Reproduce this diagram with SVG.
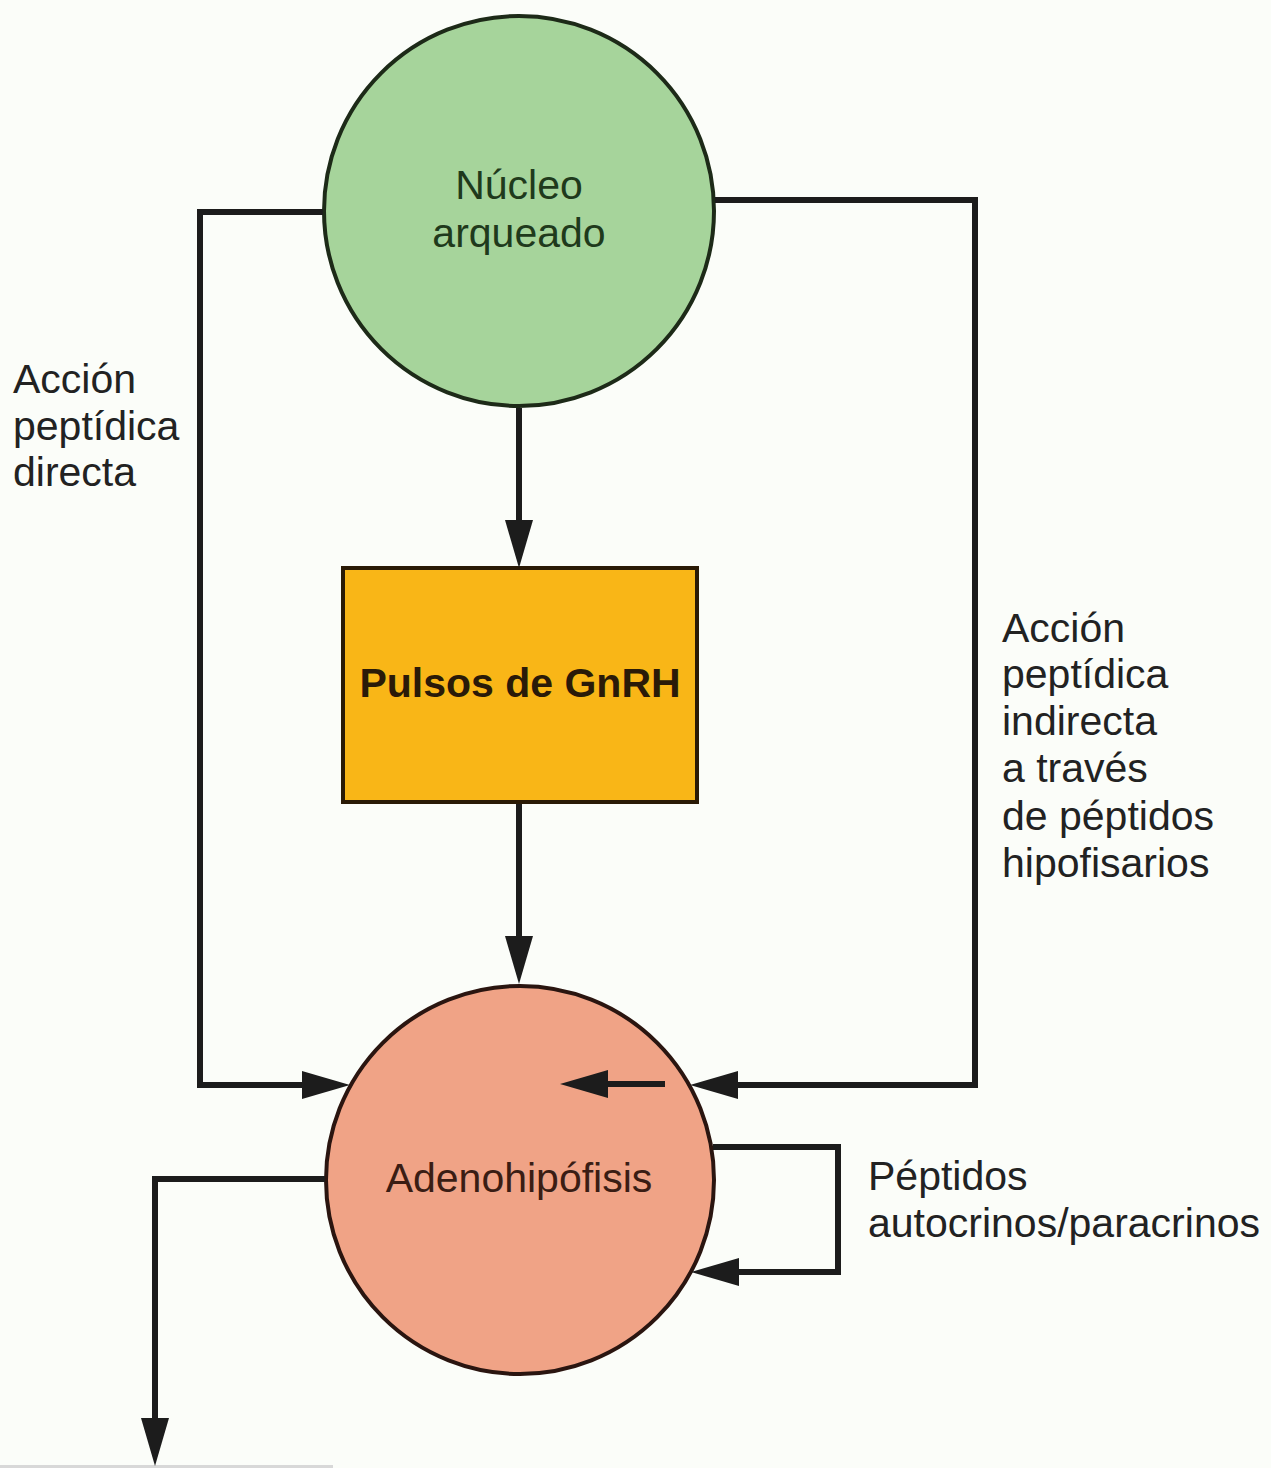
<svg xmlns="http://www.w3.org/2000/svg" width="1271" height="1468" viewBox="0 0 1271 1468">
  <defs>
    <marker id="ah" viewBox="0 0 48 28" markerWidth="48" markerHeight="28" refX="10" refY="14" orient="auto" markerUnits="userSpaceOnUse">
      <path d="M0,0 L48,14 L0,28 z" fill="#1c1c1c"/>
    </marker>
    <style>
      .conn { fill: none; stroke: #1c1c1c; stroke-width: 6; stroke-linejoin: miter; stroke-linecap: butt; }
      .lbl { font-family: "Liberation Sans", Arial, Helvetica, sans-serif; font-size: 41px; fill: #222222; }
      .ctr { text-anchor: middle; }
    </style>
  </defs>
  <rect x="0" y="0" width="1271" height="1468" fill="#fbfdf9"/>
  <rect x="0" y="1465" width="333" height="3" fill="#d8d8d8"/>

  <g id="nucleo-arqueado">
    <circle cx="519" cy="211" r="195" fill="#a6d49b" stroke="#1d2a18" stroke-width="4"/>
    <text class="lbl ctr" x="519" y="199" style="fill:#1f3a1c">Núcleo</text>
    <text class="lbl ctr" x="519" y="247" style="fill:#1f3a1c">arqueado</text>
  </g>

  <g id="pulsos-gnrh">
    <rect x="343" y="568" width="354" height="234" fill="#f9b617" stroke="#2a1a05" stroke-width="4"/>
    <text class="lbl ctr" x="520" y="697" font-weight="bold" style="fill:#2a1a08">Pulsos de GnRH</text>
  </g>

  <g id="adenohipofisis">
    <circle cx="520" cy="1180" r="194" fill="#f0a386" stroke="#2a1510" stroke-width="4"/>
    <text class="lbl ctr" x="519" y="1192" style="fill:#3a1d14">Adenohipófisis</text>
  </g>

  <g id="label-directa">
    <text class="lbl" x="13" y="393">Acción</text>
    <text class="lbl" x="13" y="440">peptídica</text>
    <text class="lbl" x="13" y="486">directa</text>
  </g>

  <g id="label-indirecta">
    <text class="lbl" x="1002" y="642">Acción</text>
    <text class="lbl" x="1002" y="688">peptídica</text>
    <text class="lbl" x="1002" y="735">indirecta</text>
    <text class="lbl" x="1002" y="782">a través</text>
    <text class="lbl" x="1002" y="830">de péptidos</text>
    <text class="lbl" x="1002" y="877">hipofisarios</text>
  </g>

  <g id="label-autocrinos">
    <text class="lbl" x="868" y="1190">Péptidos</text>
    <text class="lbl" x="868" y="1237">autocrinos/paracrinos</text>
  </g>

  <g id="connectors">
    <path class="conn" d="M519,408 V530" marker-end="url(#ah)"/>
    <path class="conn" d="M519,804 V946" marker-end="url(#ah)"/>
    <path class="conn" d="M323,212 H200 V1085 H312" marker-end="url(#ah)"/>
    <path class="conn" d="M715,200 H975 V1085 H728" marker-end="url(#ah)"/>
    <path class="conn" d="M665,1084 H598" marker-end="url(#ah)"/>
    <path class="conn" d="M713,1147 H838 V1272 H729" marker-end="url(#ah)"/>
    <path class="conn" d="M325,1179 H155 V1428" marker-end="url(#ah)"/>
  </g>
</svg>
